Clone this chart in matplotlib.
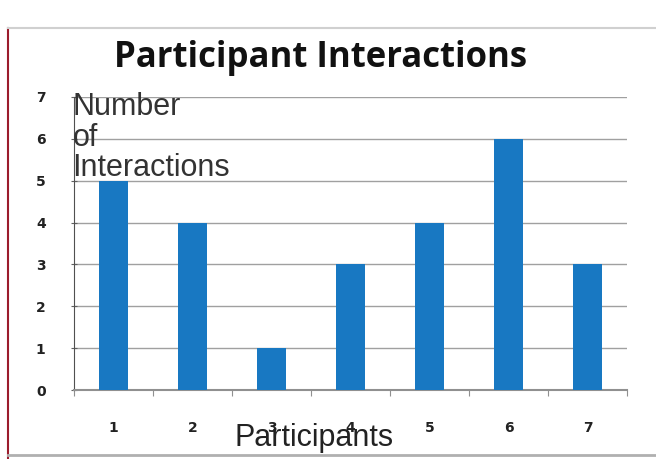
import matplotlib.pyplot as plt
import numpy as np
from matplotlib.lines import Line2D

participants = ['1', '2', '3', '4', '5', '6', '7']
interactions = [5, 4, 1, 3, 4, 6, 3]
yticks = [0, 1, 2, 3, 4, 5, 6, 7]

fig = plt.figure(figsize=(6.56, 4.59), dpi=100)
ax = fig.add_axes([0.113, 0.150, 0.843, 0.639])

x = np.arange(len(participants))
ax.bar(x, interactions, width=0.36, color='#1878c2', zorder=3)

ax.set_xlim(-0.5, len(participants) - 0.5)
ax.set_ylim(0, 7)
ax.set_yticks(yticks)
ax.set_yticklabels([str(v) for v in yticks], fontweight='bold', fontsize=10, color='#222222')
ax.yaxis.grid(True, color='#a0a0a0', linewidth=1.0, zorder=0)

# category labels sit well below the axis, ticks go between categories
ax.set_xticks(np.arange(-0.5, len(participants), 1.0))
ax.set_xticklabels([])
ax.set_xticks(x, minor=True)
ax.set_xticklabels(participants, minor=True, fontweight='bold', fontsize=10, color='#222222')
ax.tick_params(axis='x', which='major', length=4, color='#909090')
ax.tick_params(axis='x', which='minor', length=0, pad=22)
ax.tick_params(axis='y', length=5, color='#606060', direction='inout', pad=18)

for s in ['top', 'right']:
    ax.spines[s].set_visible(False)
ax.spines['left'].set_color('#505050')
ax.spines['bottom'].set_color('#909090')
ax.spines['bottom'].set_linewidth(1.5)

fig.text(0.488, 0.874, 'Participant Interactions', ha='center', va='center',
         fontsize=25, fontweight='bold', family='Open Sans', color='#111111')
ax.text(-0.003, 1.015, 'Number\nof\nInteractions', transform=ax.transAxes, ha='left', va='top',
        fontsize=22, family='Liberation Sans', color='#333333', linespacing=1.02)
fig.text(0.479, 0.046, 'Participants', ha='center', va='center',
         fontsize=22, family='Liberation Sans', color='#222222')

# outer frame of the screenshot
fig.add_artist(Line2D([0.012, 0.012], [0.0, 0.94], color='#9b1c2c', linewidth=1.5, transform=fig.transFigure))
fig.add_artist(Line2D([0.012, 1.0], [0.94, 0.94], color='#d0d0d0', linewidth=1.5, transform=fig.transFigure))
fig.add_artist(Line2D([0.012, 1.0], [0.008, 0.008], color='#b0b0b0', linewidth=2, transform=fig.transFigure))

fig.savefig('out.png', dpi=100)
